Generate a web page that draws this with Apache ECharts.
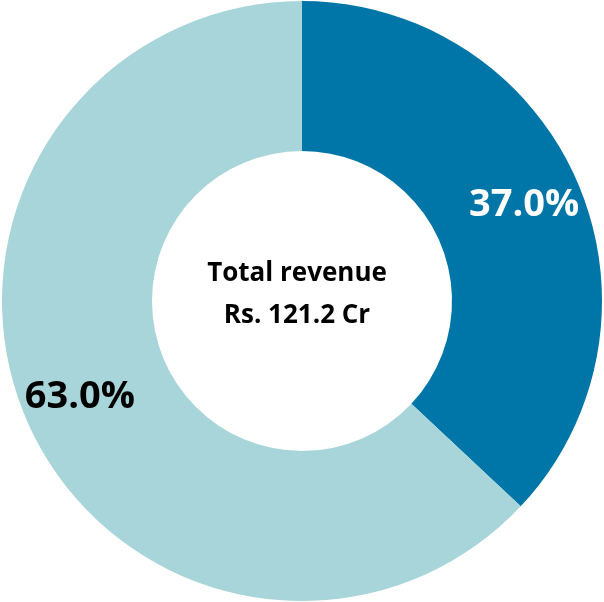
<!DOCTYPE html>
<html>
<head>
<meta charset="utf-8">
<script src="https://cdn.jsdelivr.net/npm/echarts@6/dist/echarts.min.js"></script>
<style>
  html, body { margin: 0; padding: 0; background: #fff; }
  #chart { width: 604px; height: 602px; }
</style>
</head>
<body>
<div id="chart"></div>
<script>
// revenue split (percent)
var segments = ['Segment A', 'Segment B'];
var shares = [37.0, 63.0];
var colors = ['#0076A8', '#A8D5DA'];
var labelColors = ['#ffffff', '#000000'];
var centerLines = ['Total revenue', 'Rs. 121.2 Cr'];

var chart = echarts.init(document.getElementById('chart'));

var pieData = segments.map(function (name, i) {
  return { name: name, value: shares[i], itemStyle: { color: colors[i] } };
});

// transparent copy, only used to place the labels a bit further out
var labelData = segments.map(function (name, i) {
  return {
    name: name,
    value: shares[i],
    itemStyle: { color: 'transparent' },
    label: { color: labelColors[i] }
  };
});

chart.setOption({
  backgroundColor: '#ffffff',
  animation: false,
  graphic: [{
    type: 'text',
    x: 297,
    y: 295,
    z: 10,
    style: {
      text: centerLines.join('\n'),
      align: 'center',
      verticalAlign: 'middle',
      fontFamily: 'Open Sans',
      fontWeight: 'bold',
      fontSize: 26,
      lineHeight: 42,
      fill: '#000'
    }
  }],
  series: [{
    type: 'pie',
    center: [302, 301],
    radius: [150, 300],
    startAngle: 90,
    clockwise: true,
    silent: true,
    label: { show: false },
    labelLine: { show: false },
    data: pieData
  }, {
    type: 'pie',
    center: [302, 301],
    radius: [0, 478],
    startAngle: 90,
    clockwise: true,
    silent: true,
    z: 5,
    label: {
      show: true,
      position: 'inside',
      fontFamily: 'Open Sans',
      fontWeight: 'bold',
      fontSize: 38,
      formatter: function (p) { return p.value.toFixed(1) + '%'; }
    },
    labelLine: { show: false },
    data: labelData
  }]
});
</script>
</body>
</html>
